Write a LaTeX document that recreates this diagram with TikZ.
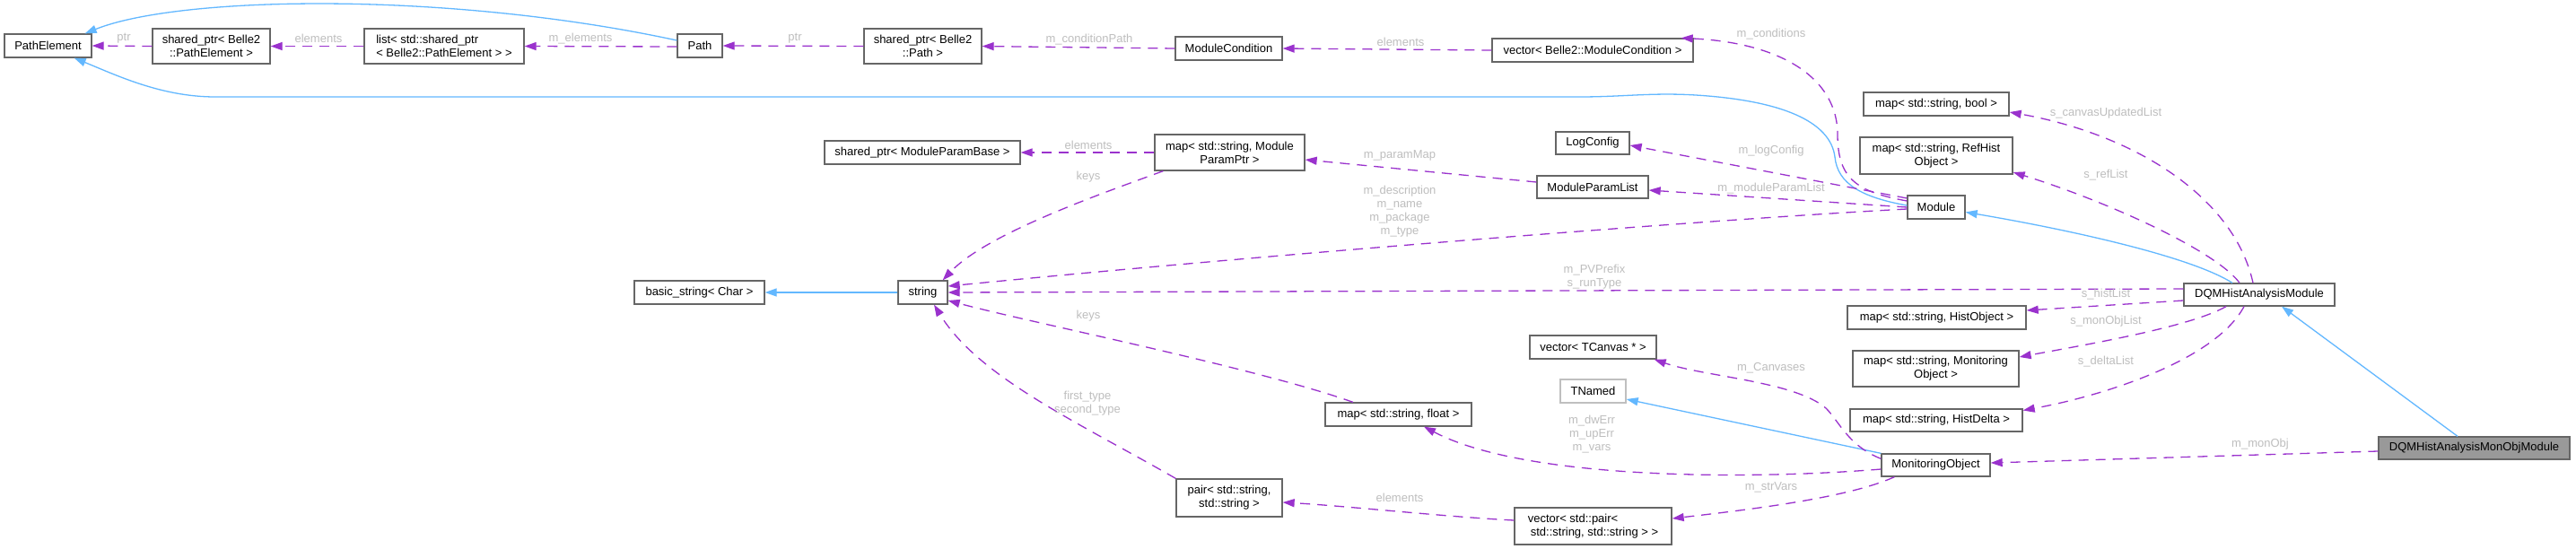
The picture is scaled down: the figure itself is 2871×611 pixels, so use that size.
\documentclass[tikz,border=0pt]{standalone}
\usepackage{fontspec}
\setmainfont{Liberation Sans}
\usetikzlibrary{arrows.meta}
\definecolor{depc}{HTML}{9A32CD}
\definecolor{inhc}{HTML}{63B8FF}
\definecolor{boxc}{HTML}{666666}
\definecolor{lblc}{HTML}{BEBEBE}
\definecolor{grayfill}{HTML}{999999}
\definecolor{tnc}{HTML}{BFBFBF}
\newcommand\dxfont{\fontsize{13pt}{15pt}\selectfont}
\begin{document}
\begin{tikzpicture}[x=1pt,y=-1pt,
  box/.style={draw=boxc, fill=white, line width=1.3pt, inner sep=0pt, align=center, font=\dxfont},
  lbl/.style={text=lblc, inner sep=0pt, align=center, font=\dxfont},
  dep/.style={draw=depc, line width=1.3pt, dash pattern=on 11pt off 8pt, -{Triangle[length=13pt,width=9pt]}},
  inh/.style={draw=inhc, line width=1.3pt, -{Triangle[length=13pt,width=9pt]}}]
\useasboundingbox (0,0) rectangle (2871,611);
\fill[white] (0,0) rectangle (2871,611);

% nodes
\node[box, minimum width=97pt, minimum height=26pt] (pe) at (53.5,51) {PathElement};
\node[box, minimum width=131pt, minimum height=39pt] (sppe) at (235.5,51.5) {shared\_ptr< Belle2\\::PathElement >};
\node[box, minimum width=178pt, minimum height=39pt, align=left] (lst) at (495,51.5) {list< std::shared\_ptr\\< Belle2::PathElement > >};
\node[box, minimum width=50pt, minimum height=26pt] (path) at (780,51) {Path};
\node[box, minimum width=131pt, minimum height=39pt] (spp) at (1028.5,51.5) {shared\_ptr< Belle2\\::Path >};
\node[box, minimum width=119pt, minimum height=26pt] (mc) at (1369.5,54) {ModuleCondition};
\node[box, minimum width=224pt, minimum height=26pt] (vmc) at (1775,56) {vector< Belle2::ModuleCondition >};
\node[box, minimum width=162pt, minimum height=26pt] (mapbool) at (2158,116) {map< std::string, bool >};
\node[box, minimum width=218pt, minimum height=26pt] (spmpb) at (1028,170) {shared\_ptr< ModuleParamBase >};
\node[box, minimum width=167pt, minimum height=40pt] (mpp) at (1370.5,170) {map< std::string, Module\\ParamPtr >};
\node[box, minimum width=82pt, minimum height=25pt] (logc) at (1775,159.5) {LogConfig};
\node[box, minimum width=170pt, minimum height=41pt] (maprh) at (2158,173.5) {map< std::string, RefHist\\Object >};
\node[box, minimum width=124pt, minimum height=25pt] (mpl) at (1775,208.5) {ModuleParamList};
\node[box, minimum width=64pt, minimum height=26pt] (mod) at (2158,231) {Module};
\node[box, minimum width=145pt, minimum height=26pt] (bstr) at (779.5,326) {basic\_string< Char >};
\node[box, minimum width=55pt, minimum height=26pt] (str) at (1028.5,326) {string};
\node[box, minimum width=168pt, minimum height=25pt] (dqm) at (2518,328.5) {DQMHistAnalysisModule};
\node[box, minimum width=199pt, minimum height=26pt] (maphist) at (2158.5,354) {map< std::string, HistObject >};
\node[box, minimum width=141pt, minimum height=26pt] (vtc) at (1775.5,387) {vector< TCanvas * >};
\node[box, minimum width=185pt, minimum height=40pt] (mapmon) at (2157.5,411) {map< std::string, Monitoring\\Object >};
\node[box, draw=tnc, minimum width=73pt, minimum height=26pt] (tnamed) at (1775.5,436) {TNamed};
\node[box, minimum width=163pt, minimum height=26pt] (mapf) at (1558.5,462) {map< std::string, float >};
\node[box, minimum width=192pt, minimum height=25pt] (mapdelta) at (2158,468.5) {map< std::string, HistDelta >};
\node[box, fill=grayfill, minimum width=213pt, minimum height=25pt] (monobjmod) at (2757.5,499.5) {DQMHistAnalysisMonObjModule};
\node[box, minimum width=121pt, minimum height=25pt] (mo) at (2157.5,518.5) {MonitoringObject};
\node[box, minimum width=118pt, minimum height=42pt] (pair) at (1370,555) {pair< std::string,\\std::string >};
\node[box, minimum width=175pt, minimum height=41pt, align=left] (vpair) at (1775.5,586.5) {vector< std::pair<\\\hspace*{3pt}std::string, std::string > >};

% edges
\draw[dep] (sppe.west) -- (pe.east);
\draw[dep] (lst.west) -- (sppe.east);
\draw[dep] ([yshift=-1pt]path.west) -- (lst.east);
\draw[inh] ([yshift=6pt]path.west) .. controls (500,-10) and (200,-5) .. ([xshift=-8pt]pe.north east);
\draw[dep] (spp.west) -- (path.east);
\draw[dep] (mc.west) -- (spp.east);
\draw[dep] (vmc.west) -- (mc.east);
\draw[dep] ([yshift=7pt]mod.west) .. controls (2070,214) and (2048,200) .. (2048,150) .. controls (2048,90) and (1990,48) .. ([xshift=-14pt]vmc.north east);
\draw[inh] ([yshift=2pt]mod.west) .. controls (2075,220) and (2048,205) .. (2045,175) .. controls (2040,135) and (1985,112) .. (1890,106) .. controls (1840,103) and (1810,108) .. (1760,108) -- (240,108) .. controls (180,108) and (130,84) .. ([xshift=-20pt]pe.south east);
\draw[dep] (mpp.west) -- (spmpb.east);
\draw[dep] ([xshift=10pt]mpp.south west) .. controls (1230,215) and (1100,260) .. ([xshift=-6pt]str.north east);
\draw[dep] ([yshift=5.5pt]mpl.west) -- ([yshift=-8pt]mpp.east);
\draw[dep] ([yshift=10pt]mod.west) -- ([yshift=-2.5pt]logc.east);
\draw[dep] (mod.west) -- ([yshift=-3.5pt]mpl.east);
\draw[dep] ([yshift=-2pt]mod.west) .. controls (1900,245) and (1400,285) .. ([yshift=7pt]str.east);
\draw[inh] (str.west) -- (bstr.east);
\draw[dep] ([yshift=6.5pt]dqm.west) -- (str.east);
\draw[inh] ([xshift=-30pt]dqm.north) .. controls (2440,285) and (2300,255) .. ([yshift=-5.5pt]mod.east);
\draw[dep] ([xshift=-7pt]dqm.north) .. controls (2490,220) and (2380,150) .. ([yshift=-9pt]mapbool.east);
\draw[dep] ([xshift=-22pt]dqm.north) .. controls (2470,280) and (2350,225) .. ([yshift=-18.5pt]maprh.east);
\draw[dep] ([yshift=-6.5pt]dqm.west) -- ([yshift=8pt]maphist.east);
\draw[dep] ([xshift=-37pt]dqm.south) .. controls (2440,365) and (2320,385) .. ([yshift=13pt]mapmon.east);
\draw[dep] ([xshift=-17pt]dqm.south) .. controls (2470,400) and (2350,440) .. ([yshift=11pt]mapdelta.east);
\draw[inh] ([xshift=-18.5pt]monobjmod.north) -- ([xshift=25pt]dqm.south);
\draw[dep] ([yshift=-3.5pt]monobjmod.west) -- ([yshift=2.5pt]mo.east);
\draw[inh] (mo.north west) -- ([yshift=-9pt]tnamed.east);
\draw[dep] ([yshift=-6pt]mo.north west) .. controls (2060,497) and (2050,470) .. (2035,455) .. controls (2000,425) and (1900,420) .. ([xshift=-3pt]vtc.south east);
\draw[dep] ([yshift=-4.5pt]mo.west) .. controls (1950,535) and (1700,535) .. ([xshift=28.5pt]mapf.south);
\draw[dep] ([xshift=15pt]mo.south west) .. controls (2060,555) and (1950,568) .. ([yshift=8.5pt]vpair.east);
\draw[dep] ([xshift=-50.5pt]mapf.north) .. controls (1400,410) and (1150,360) .. ([yshift=-9pt]str.east);
\draw[dep] (pair.north west) .. controls (1200,470) and (1090,420) .. ([xshift=12.5pt]str.south);
\draw[dep] ([yshift=6.5pt]vpair.west) .. controls (1610,576) and (1500,564) .. ([yshift=-5pt]pair.east);

% labels
\node[lbl] (l1) at (138,43) {ptr};
\node[lbl] (l2) at (355,43) {elements};
\node[lbl] (l3) at (647,43) {m\_elements};
\node[lbl] (l4) at (886,43) {ptr};
\node[lbl] (l5) at (1214,44) {m\_conditionPath};
\node[lbl] (l6) at (1561,47) {elements};
\node[lbl] (l7) at (1974,38) {m\_conditions};
\node[lbl] (l8) at (2347,126) {s\_canvasUpdatedList};
\node[lbl] (l9) at (1213,162) {elements};
\node[lbl] (l10) at (1560,173) {m\_paramMap};
\node[lbl] (l11) at (1974,168) {m\_logConfig};
\node[lbl] (l12) at (2347,195) {s\_refList};
\node[lbl] (l13) at (1213,197) {keys};
\node[lbl] (l14) at (1974,210) {m\_moduleParamList};
\node[lbl] (l15) at (1560,236) {m\_description\\m\_name\\m\_package\\m\_type};
\node[lbl] (l16) at (1777,308.5) {m\_PVPrefix\\s\_runType};
\node[lbl] (l17) at (2347,328) {s\_histList};
\node[lbl] (l18) at (1213,352) {keys};
\node[lbl] (l19) at (2347,358) {s\_monObjList};
\node[lbl] (l20) at (2347,403) {s\_deltaList};
\node[lbl] (l21) at (1974,410) {m\_Canvases};
\node[lbl] (l22) at (1212,449.5) {first\_type\\second\_type};
\node[lbl] (l23) at (1774,484) {m\_dwErr\\m\_upErr\\m\_vars};
\node[lbl] (l24) at (2519,495) {m\_monObj};
\node[lbl] (l25) at (1974,543) {m\_strVars};
\node[lbl] (l26) at (1560,555) {elements};
\end{tikzpicture}
\end{document}
